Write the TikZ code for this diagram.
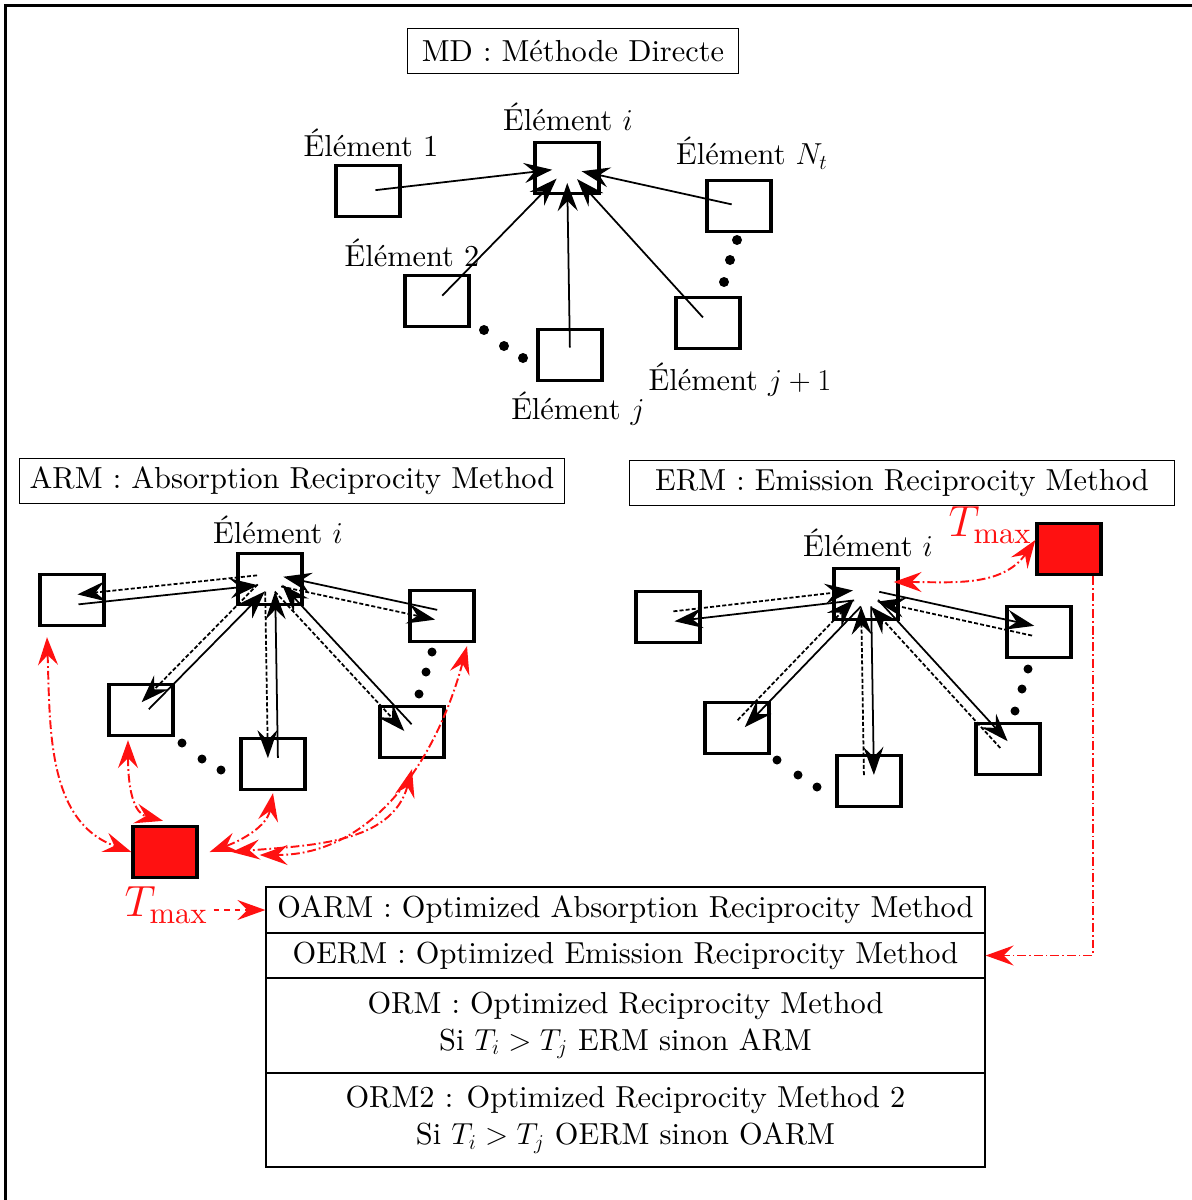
\documentclass[tikz,border=0pt]{standalone}
\usepackage{fontspec}
\setmainfont{lmroman10-regular.otf}
\usetikzlibrary{arrows.meta,calc}
\definecolor{rouge}{RGB}{255,17,17}
\tikzset{
	elem/.style={draw,line width=1.9pt,minimum width=1.28cm,minimum height=1.02cm,inner sep=0pt},
	chaud/.style={elem,fill=rouge},
	titre/.style={draw,line width=0.8pt,minimum height=0.9cm,inner sep=0pt},
	ligne/.style={draw,line width=0.8pt,minimum width=14.38cm,inner sep=0pt,align=center},
	fl/.style={line width=1pt,->},
	fld/.style={fl,dash pattern=on 2.3pt off 1.2pt},
	tiretpoint/.style={rouge,line width=1.1pt,dash pattern=on 5pt off 1.7pt on 1pt off 1.7pt},
	flr/.style={tiretpoint,<->},
	tmax/.style={rouge,font=\fontsize{24.9}{30}\selectfont}
}
\begin{document}
\begin{tikzpicture}[x=0.02cm,y=0.02cm,>={Stealth[length=5.6mm,width=4mm,inset=2mm]},font=\fontsize{17.3}{21}\selectfont]
	\useasboundingbox (0,0) rectangle (1191,-1200);
	\draw[line width=1.4pt] (5.5,-1210) |- (1200,-5.5);

	% methode directe
	\node[titre,minimum width=6.62cm] (md) at (573,-51) {MD : Méthode Directe};
	\node[elem] (mdi) at (567,-168) {};
	\node[elem] (md1) at (368,-191) {};
	\node[elem] (mdnt) at (739,-206) {};
	\node[elem] (md2) at (437,-301) {};
	\node[elem] (mdj) at (570,-355) {};
	\node[elem] (mdjj) at (708,-323) {};
	\node (lmdi) at (568,-117) {Élément $i$};
	\node (lmd1) at (371,-143) {Élément 1};
	\node (lmdnt) at (752,-153) {Élément $N_t$};
	\node (lmd2) at (412,-253) {Élément 2};
	\node (lmdj) at (578,-409) {Élément $j$};
	\node (lmdjj) at (740,-380) {Élément $j+1$};
	\foreach \n in {1,2,j,jj,nt}
		\draw[fl,shorten <=0.15cm,shorten >=0.3cm] (md\n.center) -- (mdi.center);
	\foreach \p in {(484,-330),(504,-346),(523,-358),(737,-240),(730,-260),(724,-282)}
		\fill \p circle (0.1cm);

	% ARM
	\node[titre,minimum width=10.9cm] (arm) at (292,-481) {ARM : Absorption Reciprocity Method};
	\node[elem] (ai) at (270,-579) {};
	\node[elem] (a1) at (72,-600) {};
	\node[elem] (a2) at (141,-710) {};
	\node[elem] (aj) at (273,-764) {};
	\node[elem] (ajj) at (412,-732) {};
	\node[elem] (ant) at (442,-616) {};
	\node[chaud] (ar) at (165,-852) {};
	\node (lai) at (278,-530) {Élément $i$};
	\node[tmax] (tma) at (166,-905) {$T_{\max}$};
	\foreach \n in {1,2,j,jj,nt}{
		\draw[fl,shorten <=0.12cm,shorten >=0.25cm] ($(a\n)!0.1cm!-90:(ai)$) -- ($(ai)!0.1cm!90:(a\n)$);
		\draw[fld,shorten <=0.25cm,shorten >=0.12cm] ($(ai)!0.1cm!-90:(a\n)$) -- ($(a\n)!0.1cm!90:(ai)$);
	}
	\foreach \p in {(182,-743),(202,-759),(221,-770),(432,-652),(426,-672),(419,-694)}
		\fill \p circle (0.09cm);
	\draw[flr] ([xshift=-0.5cm,yshift=-0.2cm]a1.south) to[out=-88,in=160] (ar.west);
	\draw[flr] ([xshift=-0.26cm,yshift=-0.06cm]a2.south) to[out=-90,in=165] ([xshift=-0.04cm,yshift=0.08cm]ar.north);
	\draw[flr] ([yshift=-0.04cm]aj.south) to[out=-100,in=20] ([xshift=0.22cm]ar.east);
	\draw[flr] ([yshift=-0.2cm]ajj.south) to[out=-105,in=5] ([xshift=0.66cm]ar.east);
	\draw[flr] ([xshift=0.5cm,yshift=-0.06cm]ant.south) to[out=-105,in=0] ([xshift=1.22cm,yshift=-0.06cm]ar.east);

	% ERM
	\node[titre,minimum width=10.9cm] (erm) at (902,-483) {ERM : Emission Reciprocity Method};
	\node[elem] (ei) at (866,-594) {};
	\node[elem] (e1) at (668,-617) {};
	\node[elem] (e2) at (737,-728) {};
	\node[elem] (ej) at (869,-781) {};
	\node[elem] (ejj) at (1008,-749) {};
	\node[elem] (ent) at (1039,-632) {};
	\node[chaud] (er) at (1069,-549) {};
	\node (lei) at (868,-543) {Élément $i$};
	\node[tmax] (tme) at (990,-525) {$T_{\max}$};
	\foreach \n in {1,2,j,jj,nt}{
		\draw[fl,shorten <=0.25cm,shorten >=0.12cm] ($(ei)!0.1cm!90:(e\n)$) -- ($(e\n)!0.1cm!-90:(ei)$);
		\draw[fld,shorten <=0.12cm,shorten >=0.25cm] ($(e\n)!0.1cm!90:(ei)$) -- ($(ei)!0.1cm!-90:(e\n)$);
	}
	\foreach \p in {(777,-760),(798,-775),(817,-787),(1028,-669),(1022,-689),(1015,-711)}
		\fill \p circle (0.09cm);
	\draw[flr] ([xshift=-0.12cm,yshift=0.24cm]ei.east) to[out=0,in=235] ([yshift=0.18cm]er.west);

	% methodes optimisees
	\node[ligne,minimum height=0.92cm] (oarm) at (625.5,-910) {OARM : Optimized Absorption Reciprocity Method};
	\node[ligne,minimum height=0.9cm] (oerm) at (625.5,-955.5) {OERM : Optimized Emission Reciprocity Method};
	\node[ligne,minimum height=1.9cm] (orm) at (625.5,-1025.5) {ORM : Optimized Reciprocity Method\\Si $T_i>T_j$ ERM sinon ARM};
	\node[ligne,minimum height=1.88cm] (ormd) at (625.5,-1120) {ORM2 : Optimized Reciprocity Method 2\\Si $T_i>T_j$ OERM sinon OARM};
	\draw[rouge,line width=1.1pt,dashed,->] (oarm.west -| tma.east) -- (oarm.west);
	\draw[tiretpoint,->] ([xshift=-0.2cm]er.south east) |- (oerm.east);
\end{tikzpicture}
\end{document}
